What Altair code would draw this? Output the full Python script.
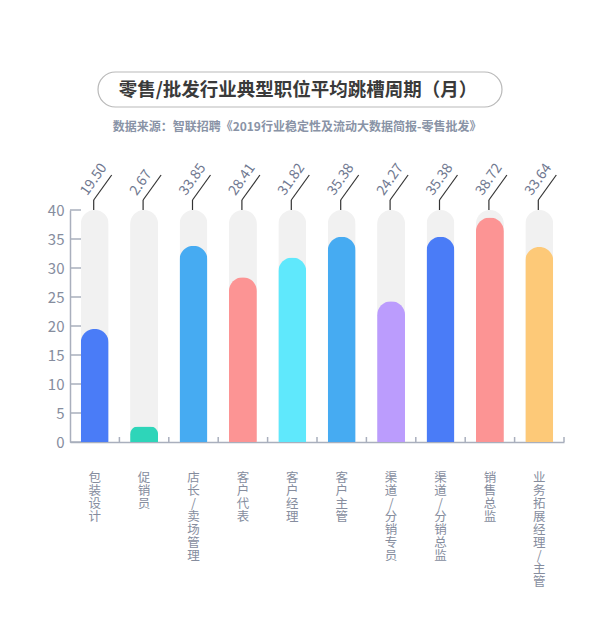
import altair as alt
import pandas as pd

categories = ["包装设计", "促销员", "店长/卖场管理", "客户代表", "客户经理",
              "客户主管", "渠道/分销专员", "渠道/分销总监", "销售总监", "业务拓展经理/主管"]
values = [19.50, 2.67, 33.85, 28.41, 31.82, 35.38, 24.27, 35.38, 38.72, 33.64]
bar_colors = ["#4a7cf7", "#2ed5b9", "#46abf2", "#fc9494", "#5fe8fc",
              "#46abf2", "#bb9cfd", "#4a7cf7", "#fc9494", "#fdc978"]
y_ticks = [0, 5, 10, 15, 20, 25, 30, 35, 40]
y_max = 40

title_text = "零售/批发行业典型职位平均跳槽周期（月）"
source_text = "数据来源：智联招聘《2019行业稳定性及流动大数据简报-零售批发》"

FONT = "Noto Sans CJK SC"
AXIS_GREY = "#a9afbd"
LABEL_GREY = "#868d9e"

df = pd.DataFrame({"job": categories, "value": values,
                   "top": [y_max] * len(categories), "zero": [0] * len(categories)})
df["label"] = df["value"].map(lambda v: f"{v:.2f}")

y_scale = alt.Scale(domain=[0, y_max], nice=False)
x_axis = alt.Axis(title=None, labelExpr="split(datum.label, '')", labelAngle=0,
                  labelFont=FONT, labelFontSize=12.5, labelLineHeight=13,
                  labelColor=LABEL_GREY, labelPadding=29, tickSize=0,
                  labelOverlap=False,
                  domainColor=AXIS_GREY, domainWidth=1.5, grid=False)
y_axis = alt.Axis(title=None, values=y_ticks, tickCount=9, labelFont=FONT, labelFontSize=15,
                  labelColor=LABEL_GREY, labelPadding=6, tickSize=0, labelOverlap=False,
                  domainColor=AXIS_GREY, domainWidth=1.5, grid=False)


def xj(**kw):
    return alt.X("job:N", sort=categories, scale=alt.Scale(paddingInner=0, paddingOuter=0),
                 axis=x_axis, **kw)


def yq(field):
    return alt.Y(field, scale=y_scale, axis=y_axis)


base = alt.Chart(df)

# grey track behind each bar
track = base.mark_bar(width=28, color="#f1f1f1", cornerRadiusTopLeft=14, cornerRadiusTopRight=14).encode(
    x=xj(),
    y=yq("top:Q"),
)

bars = base.mark_bar(width=28, cornerRadiusTopLeft=14, cornerRadiusTopRight=14).encode(
    x=xj(),
    y=yq("value:Q"),
    color=alt.Color("job:N", scale=alt.Scale(domain=categories, range=bar_colors), legend=None),
)

# ticks pointing inward
x_ticks = base.mark_rule(color=AXIS_GREY, strokeWidth=1.5, y2Offset=-5).encode(
    x=xj(bandPosition=1),
    y=yq("zero:Q"),
    y2="zero:Q",
)
y_tick_marks = alt.Chart(pd.DataFrame({"t": y_ticks})).mark_rule(color=AXIS_GREY, strokeWidth=1.5).encode(
    y=yq("t:Q"),
    x=alt.value(0),
    x2=alt.value(11),
)

# leader lines to the value labels
stem = base.mark_rule(color="#333333", strokeWidth=1.2, xOffset=-1, y2Offset=-10).encode(
    x=xj(),
    y=yq("top:Q"),
    y2="top:Q",
)
diag = base.mark_rule(color="#333333", strokeWidth=1.2, xOffset=-1, x2Offset=17,
                      yOffset=-10, y2Offset=-35).encode(
    x=xj(bandPosition=0.5),
    x2=alt.X2("job", bandPosition=0.5),
    y=yq("top:Q"),
    y2="top:Q",
)
labels = base.mark_text(angle=305, align="left", baseline="bottom", xOffset=-5, yOffset=-12,
                        font=FONT, fontSize=14, color="#6f7890").encode(
    x=xj(),
    y=yq("top:Q"),
    text="label:N",
)

# header: rounded frame, title and source line
pill = alt.Chart(pd.DataFrame({"k": [0]})).mark_rect(
    fill="white", stroke="#b9b9b9", strokeWidth=1.2, cornerRadius=17.5).encode(
    x=alt.value(28), x2=alt.value(432), y=alt.value(-138), y2=alt.value(-103),
)
title = alt.Chart(pd.DataFrame({"t": [title_text]})).mark_text(
    font=FONT, fontSize=18.5, fontWeight="bold", color="#3a3a3a", align="center", baseline="middle").encode(
    text="t:N", x=alt.value(228), y=alt.value(-120),
)
source = alt.Chart(pd.DataFrame({"t": [source_text]})).mark_text(
    font=FONT, fontSize=12, fontWeight="bold", color="#8993a6", align="center", baseline="middle").encode(
    text="t:N", x=alt.value(227), y=alt.value(-83),
)

chart = alt.layer(
    pill, title, source, track, bars, x_ticks, y_tick_marks, stem, diag, labels
).properties(
    width=494,
    height=232,
    autosize=alt.AutoSizeParams(type="none"),
    padding={"left": 62, "top": 202, "right": 24, "bottom": 170},
    background="white",
).configure_view(strokeWidth=0)

chart.save("out.html", embed_options={"renderer": "svg", "actions": False})
